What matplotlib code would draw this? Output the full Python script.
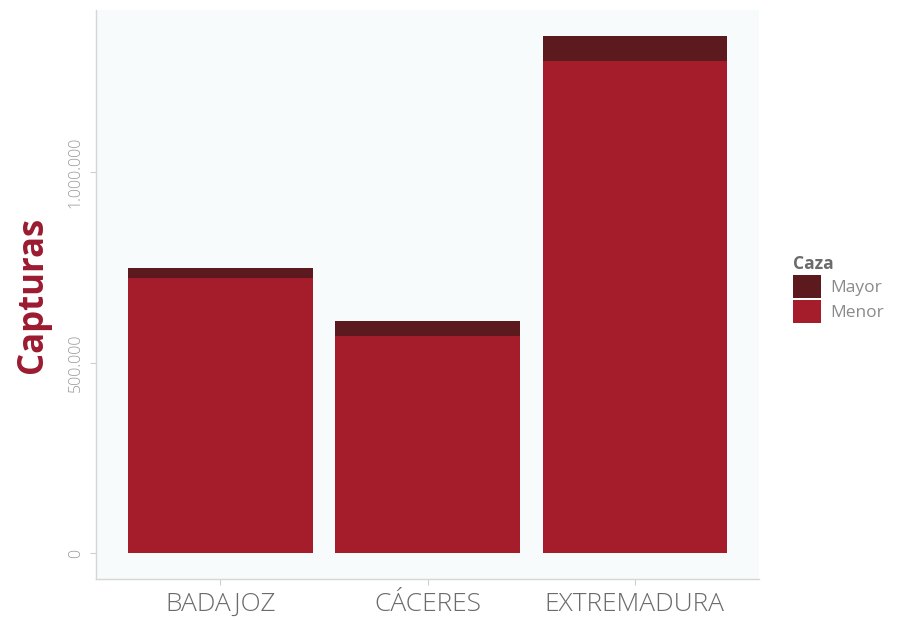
import numpy as np
import matplotlib
matplotlib.use("Agg")
import matplotlib.pyplot as plt

# datos de capturas por provincia
regiones = ["BADAJOZ", "CÁCERES", "EXTREMADURA"]
menor = [723000, 570000, 1293000]
mayor = [25000, 40000, 65000]

col_menor = "#a51c2a"
col_mayor = "#5c1a1e"

plt.rcParams['font.family'] = ['Open Sans', 'DejaVu Sans']

fig = plt.figure(figsize=(9.07, 6.2), dpi=100)
fig.patch.set_facecolor("white")
ax = fig.add_axes([0.106, 0.066, 0.731, 0.918])
ax.set_facecolor("#f8fbfb")

x = np.arange(1, len(regiones) + 1)
b1 = ax.bar(x, menor, width=0.89, color=col_menor, label="Menor")
b2 = ax.bar(x, mayor, width=0.89, bottom=menor, color=col_mayor, label="Mayor")

ax.set_xlim(0.4, 3.6)
tot = max(np.array(menor) + np.array(mayor))
ax.set_ylim(-0.05 * tot, 1.05 * tot)

ax.set_xticks(x)
ax.set_xticklabels(regiones, fontsize=19, color="#6b6b6b", fontweight="light")
ax.set_yticks([0, 500000, 1000000])
ax.set_yticklabels(["0", "500.000", "1.000.000"], fontsize=11.5, color="#9a9a9a",
                   rotation=90, va="center", fontweight="light")
ax.tick_params(axis="both", colors="#cfcfcf", length=4, width=0.8)
ax.tick_params(axis="x", labelcolor="#6b6b6b", pad=5)
ax.tick_params(axis="y", labelcolor="#9a9a9a", pad=5)

for s in ["top", "right"]:
    ax.spines[s].set_visible(False)
for s in ["left", "bottom"]:
    ax.spines[s].set_color("#d6d6d6")
    ax.spines[s].set_linewidth(1.0)

ax.set_ylabel("Capturas", fontsize=25, fontweight="bold", color="#9b1b30", labelpad=12)

leg = ax.legend(handles=[b2, b1], labels=["Mayor", "Menor"], title="Caza",
                loc="center left", bbox_to_anchor=(1.04, 0.51), frameon=False,
                fontsize=12.5, title_fontsize=12.5, handlelength=1.65, handleheight=1.65,
                handletextpad=0.5, labelspacing=0.12, labelcolor="#8a8a8a",
                borderaxespad=0.0)
leg.get_title().set_fontweight("bold")
leg.get_title().set_color("#6b6b6b")
leg._legend_box.align = "left"

fig.savefig("out.png", dpi=100)
